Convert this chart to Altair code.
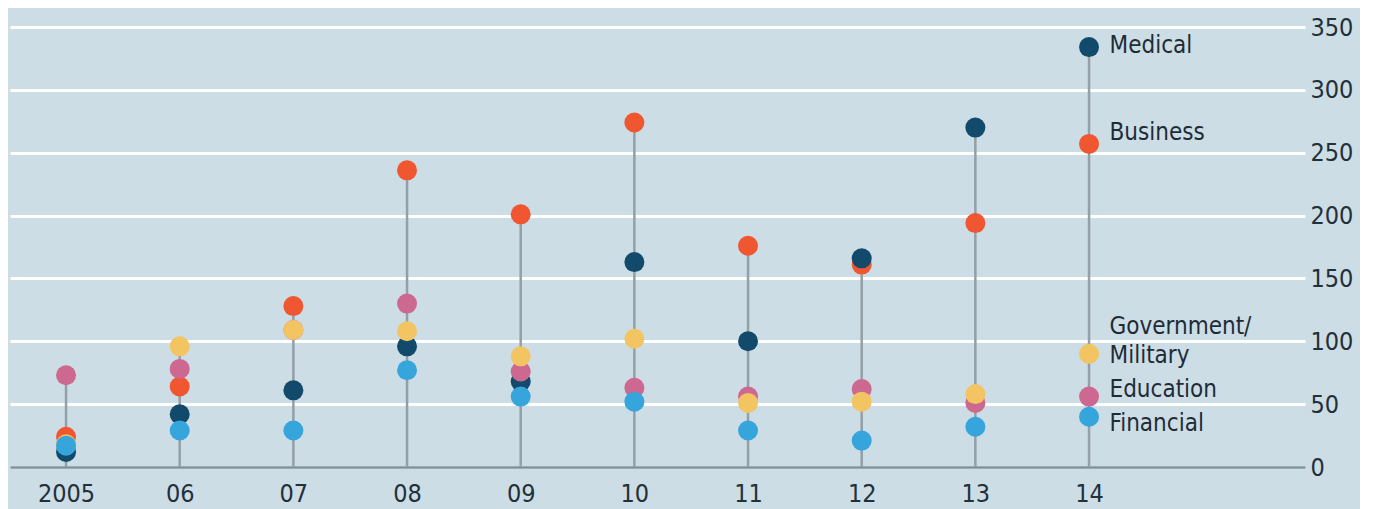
import altair as alt
import pandas as pd

years = [2005, 2006, 2007, 2008, 2009, 2010, 2011, 2012, 2013, 2014]
business = [24, 64, 128, 236, 201, 274, 176, 161, 194, 257]
medical = [12, 42, 61, 96, 68, 163, 100, 166, 270, 334]
education = [73, 78, 109, 130, 76, 63, 56, 62, 51, 56]
government = [18, 96, 109, 108, 88, 102, 51, 52, 58, 90]
financial = [17, 29, 29, 77, 56, 52, 29, 21, 32, 40]

series = ["Business", "Medical", "Education", "Government/Military", "Financial"]
colors = ["#f0562f", "#124a6b", "#cd6890", "#f2c462", "#36a5db"]
values = [business, medical, education, government, financial]

label_text = ["Medical", "Business", "Government/\nMilitary", "Education", "Financial"]
label_y = [335, 266, 111.5, 61, 34]
label_x = [2014.18] * 5

rows = []
for s, vals in zip(series, values):
    for y, v in zip(years, vals):
        rows.append({"year": y, "series": s, "value": v})
df = pd.DataFrame(rows)
df["ord"] = df["series"].map({s: i for i, s in enumerate(series)})

stems = pd.DataFrame({"year": years,
                      "top": [max(v[i] for v in values) for i in range(len(years))],
                      "base": [0] * len(years)})
labels = pd.DataFrame({"text": label_text, "x": label_x, "y": label_y})

FONT = "DejaVu Sans Condensed, DejaVu Sans, sans-serif"
xdom = [2004.507, 2015.9]
xscale = alt.Scale(domain=xdom, nice=False, zero=False)
yscale = alt.Scale(domain=[0, 350], nice=False)

stem = alt.Chart(stems).mark_rule(color="#949fa6", strokeWidth=2.5).encode(
    x=alt.X("year:Q", scale=xscale,
            axis=alt.Axis(values=years, title=None, grid=False, ticks=False,
                          domain=True, domainColor="#7a909c", domainWidth=2.5,
                          labelExpr="datum.value == 2005 ? '2005' : slice(toString(datum.value), 2)",
                          labelFont=FONT, labelFontSize=25, labelColor="#22303a",
                          labelPadding=14, labelFlush=False)),
    y=alt.Y("base:Q", scale=yscale,
            axis=alt.Axis(orient="right", values=[0, 50, 100, 150, 200, 250, 300, 350],
                          title=None, grid=True, gridColor="#ffffff", gridWidth=3,
                          ticks=False, domain=False, labelFont=FONT, labelFontSize=25,
                          labelColor="#22303a", labelPadding=5, labelAlign="left",
                          labelBaseline="middle")),
    y2="top:Q",
)

pts = alt.Chart(df).mark_circle(size=400, opacity=1).encode(
    x=alt.X("year:Q", scale=xscale),
    y=alt.Y("value:Q", scale=yscale),
    color=alt.Color("series:N", scale=alt.Scale(domain=series, range=colors), legend=None),
    order=alt.Order("ord:Q"),
)

txt = alt.Chart(labels).mark_text(align="left", baseline="middle", font=FONT,
                                  fontSize=24, color="#1e2c36", lineBreak="\n",
                                  lineHeight=29).encode(
    x=alt.X("x:Q", scale=xscale),
    y=alt.Y("y:Q", scale=yscale),
    text="text:N",
)

chart = alt.layer(stem, pts, txt).properties(
    width=1295, height=440,
    autosize=alt.AutoSizeParams(type="none"),
    padding={"left": 2, "right": 55, "top": 19, "bottom": 42},
    background="#cddde6",
).configure_view(stroke=None)

chart.save("out.html", embed_options={"renderer": "svg", "actions": False})
